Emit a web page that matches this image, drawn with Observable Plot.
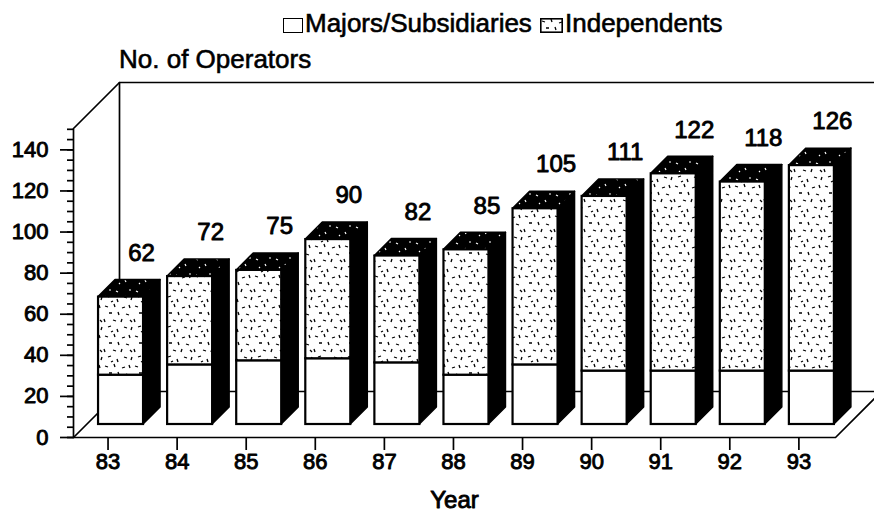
<!DOCTYPE html>
<html><head><meta charset="utf-8">
<script src="https://cdn.jsdelivr.net/npm/d3@7"></script>
<script src="https://cdn.jsdelivr.net/npm/@observablehq/plot@0.6"></script>
<style>
html,body{margin:0;padding:0;background:#fff;overflow:hidden}
#wrap{position:relative;width:874px;height:527px;font-family:"Liberation Sans",Arial,Helvetica,sans-serif;color:#000}
#head{position:relative;width:874px;height:76px}
.lg{position:absolute;font-size:26px;line-height:26px;white-space:nowrap;-webkit-text-stroke:0.6px #000}
.box{position:absolute;box-sizing:border-box;border:1.6px solid #000;background:#fff}
</style></head><body>
<svg width="0" height="0" style="position:absolute"><defs>
<pattern id="stipple" patternUnits="userSpaceOnUse" width="30" height="30">
<rect width="30" height="30" fill="#fff"/>
<path d="M2 3l3 1M11 1l1 3M19 5l3 -1M26 2l1 3M6 10l3 0M15 9l1 3M23 11l3 1M1 16l1 3M10 17l3 1M18 19l1 -3M27 17l2 2M5 24l3 -1M14 26l1 3M21 24l3 1M28 27l1 -3M8 29l2 -1" stroke="#000" stroke-width="1.3" fill="none"/>
</pattern>
<pattern id="topspeck" patternUnits="userSpaceOnUse" width="20" height="16">
<rect width="20" height="16" fill="#000"/>
<path d="M3 4l2 1M12 9l1 2M16 3l2 0M6 13l1 -1" stroke="#fff" stroke-width="1.2" fill="none"/>
</pattern>
</defs></svg>
<div id="wrap"><div id="head"></div><div id="chart"></div></div>
<script>
// ---- data ----
const years = [83, 84, 85, 86, 87, 88, 89, 90, 91, 92, 93];
const totals = [62, 72, 75, 90, 82, 85, 105, 111, 122, 118, 126];
const majors = [24, 29, 31, 32, 30, 24, 29, 26, 26, 26, 26];
const seriesNames = ["Majors/Subsidiaries", "Independents"];
const yTicks = [0, 20, 40, 60, 80, 100, 120, 140];
const yMinorTicks = d3.range(0, 151, 5);
const yTitle = "No. of Operators";
const xTitle = "Year";

// ---- header (legend + y title) ----
const head = document.getElementById("head");
head.innerHTML = `
 <div class="box" style="left:283px;top:18px;width:20px;height:15px"></div>
 <div class="lg" style="left:305px;top:10px">${seriesNames[0]}</div>
 <svg style="position:absolute;left:540px;top:18px" width="23" height="15"><rect x=".8" y=".8" width="21.4" height="13.4" fill="url(#stipple)" stroke="#000" stroke-width="1.6"/></svg>
 <div class="lg" style="left:565px;top:10px">${seriesNames[1]}</div>
 <div class="lg" style="left:119px;top:46px">${yTitle}</div>`;

// ---- geometry ----
const W = 874, H = 451, mL = 73, mR = 39, mT = 52, mB = 90;
const xDomain = [82.5, 93.53], yDomain = [0, 150.4];
const pxX = (W - mL - mR) / (xDomain[1] - xDomain[0]);
const pxY = (H - mT - mB) / (yDomain[1] - yDomain[0]);
const hw = 22.5 / pxX;          // half bar width (data units)
const tdx = 17 / pxX, tdy = 17 / pxY;   // bar depth
const Dx = 46 / pxX, Dy = 46 / pxY;     // floor depth
const off = 13;                 // bar depth offset (px)

const bars = years.map((y, i) => ({year: y, majors: majors[i], total: totals[i]}));
const sideFaces = bars.flatMap(d => [
  {year: d.year, x: d.year + hw, y1: 0, y2: d.total},
  {year: d.year, x: d.year + hw + tdx, y1: tdy, y2: d.total + tdy}
]);
const topFaces = bars.flatMap(d => [
  {year: d.year, y: d.total, x1: d.year - hw, x2: d.year + hw},
  {year: d.year, y: d.total + tdy, x1: d.year - hw + tdx, x2: d.year + hw + tdx}
]);
const X0 = xDomain[0], X1 = xDomain[1], Y1 = yDomain[1];
const wall = [
  ["a", X0, 0], ["a", X0, Y1], ["a", X0 + Dx, Y1 + Dy], ["a", X1 + Dx + 1, Y1 + Dy],
  ["b", X0 + Dx, Dy], ["b", X0 + Dx, Y1 + Dy],
  ["c", X0, 0], ["c", X0 + Dx, Dy], ["c", X1 + Dx + 1, Dy],
  ["d", X0, 0], ["d", X1, 0], ["d", X1 + Dx, Dy]
].map(([s, x, y]) => ({s, x, y}));

const chart = Plot.plot({
  width: W, height: H,
  marginLeft: mL, marginRight: mR, marginTop: mT, marginBottom: mB,
  style: {fontFamily: '"Liberation Sans", Arial, Helvetica, sans-serif', fontSize: "22px", color: "#000", background: "#fff", overflow: "visible"},
  x: {type: "linear", domain: xDomain},
  y: {type: "linear", domain: yDomain},
  marks: [
    Plot.line(wall, {x: "x", y: "y", z: "s", stroke: "#000", strokeWidth: 1.7}),
    Plot.axisY({ticks: yMinorTicks, tickSize: 6, tickFormat: () => "", label: null, strokeWidth: 1.7}),
    Plot.axisY({ticks: yTicks, tickSize: 13, tickPadding: 12, fontSize: 22, label: null, strokeWidth: 1.7, textStroke: "#000", textStrokeWidth: 0.9}),
    Plot.axisX({ticks: years, tickSize: 13, tickPadding: 3, tickFormat: d => String(d), fontSize: 22, label: null, strokeWidth: 1.7, textStroke: "#000", textStrokeWidth: 0.9}),
    Plot.areaY(sideFaces, {x: "x", y1: "y1", y2: "y2", z: "year", fill: "#000", stroke: "#000", strokeWidth: 1.5, dx: off, dy: -off}),
    Plot.areaX(topFaces, {y: "y", x1: "x1", x2: "x2", z: "year", fill: "url(#topspeck)", stroke: "#000", strokeWidth: 1.5, dx: off, dy: -off}),
    Plot.rect(bars, {x1: d => d.year - hw, x2: d => d.year + hw, y1: 0, y2: "majors", fill: "#fff", stroke: "#000", strokeWidth: 2.2, dx: off, dy: -off}),
    Plot.rect(bars, {x1: d => d.year - hw, x2: d => d.year + hw, y1: "majors", y2: "total", fill: "url(#stipple)", stroke: "#000", strokeWidth: 2.2, dx: off, dy: -off}),
    Plot.text(bars, {x: "year", y: "total", text: d => String(d.total), dx: 33.5, dy: -57, fontSize: 24, lineAnchor: "middle", fill: "#000", stroke: "#000", strokeWidth: 0.9}),
    Plot.text([xTitle], {text: d => d, frameAnchor: "bottom", dy: 63, lineAnchor: "middle", fontSize: 24, fill: "#000", stroke: "#000", strokeWidth: 0.9})
  ]
});
document.getElementById("chart").appendChild(chart);
</script>
</body></html>
